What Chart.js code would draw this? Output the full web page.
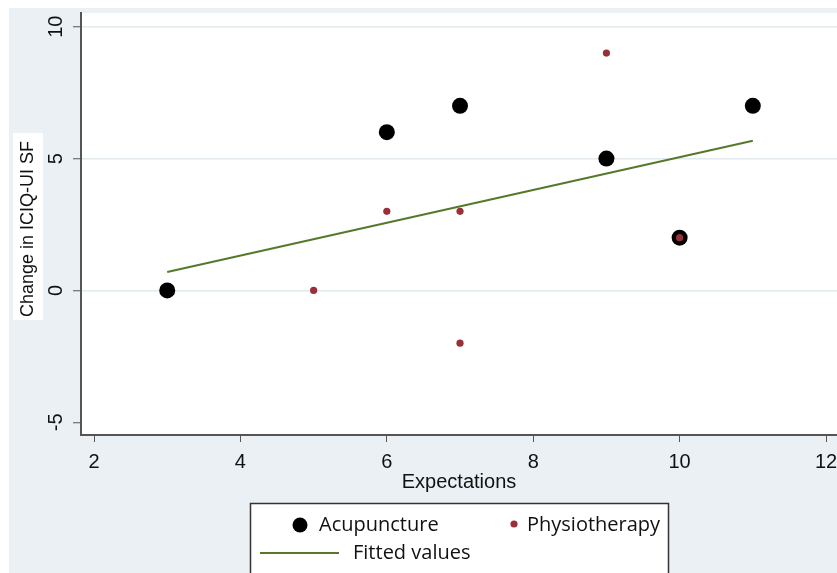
<!DOCTYPE html>
<html><head><meta charset="utf-8">
<script src="https://cdn.jsdelivr.net/npm/chart.js@4/dist/chart.umd.min.js"></script>
<style>html,body{margin:0;padding:0;background:#fff;overflow:hidden}canvas{position:absolute;left:0;top:0}</style>
</head><body><canvas id="c" width="837" height="573"></canvas>
<script>
// ---- data ----
const acuX = [3, 6, 7, 9, 10, 11];
const acuY = [0, 6, 7, 5, 2, 7];
const physX = [5, 6, 7, 7, 9, 10];
const physY = [0, 3, 3, -2, 9, 2];
const fitX = [3, 11];
const fitY = [0.70, 5.68];
const xTicks = [2, 4, 6, 8, 10, 12];
const yTicks = [-5, 0, 5, 10];
const seriesLabels = ['Acupuncture', 'Physiotherapy', 'Fitted values'];
const xTitle = 'Expectations';
const yTitle = 'Change in ICIQ-UI SF';

const BG = '#eaf0f3';
const TICKFONT = '20px "Liberation Sans", Arial, sans-serif';
const LEGFONT = '20px "Open Sans", "Liberation Sans", sans-serif';
const pts = (xs, ys) => xs.map((x, i) => ({x: x, y: ys[i]}));

const framePlugin = {
  id: 'frame',
  beforeDraw(chart) {
    const ctx = chart.ctx, a = chart.chartArea;
    ctx.save();
    ctx.fillStyle = '#fff'; ctx.fillRect(0, 0, chart.width, chart.height);
    ctx.fillStyle = BG; ctx.fillRect(9, 8, chart.width - 9, chart.height - 8);
    ctx.fillStyle = '#fff'; ctx.fillRect(a.left, a.top, a.right - a.left, a.bottom - a.top);
    // y title box + text
    ctx.fillStyle = '#fff'; ctx.fillRect(13, 133, 30, 187);
    ctx.fillStyle = '#111';
    ctx.font = '18px "Liberation Sans", Arial, sans-serif';
    ctx.textAlign = 'center'; ctx.textBaseline = 'middle';
    ctx.translate(28, (a.top + a.bottom) / 2 + 5);
    ctx.rotate(-Math.PI / 2);
    ctx.fillText(yTitle, 0, 0);
    ctx.restore();
  },
  afterDraw(chart) {
    const ctx = chart.ctx, ys = chart.scales.y;
    ctx.save();
    // rotated y tick labels
    ctx.fillStyle = '#111'; ctx.font = TICKFONT;
    ctx.textAlign = 'center'; ctx.textBaseline = 'middle';
    ys.ticks.forEach(t => {
      const py = ys.getPixelForValue(t.value);
      ctx.save(); ctx.translate(56, py); ctx.rotate(-Math.PI / 2);
      ctx.fillText(String(t.value), 0, 0); ctx.restore();
    });
    // legend
    const ds = chart.data.datasets;
    ctx.fillStyle = '#fff'; ctx.strokeStyle = '#333'; ctx.lineWidth = 1.5;
    ctx.fillRect(250, 503.5, 418, 80);
    ctx.strokeRect(250.5, 503.5, 418, 80);
    ctx.font = LEGFONT; ctx.textAlign = 'left'; ctx.textBaseline = 'middle'; ctx.fillStyle = '#111';
    ctx.beginPath(); ctx.arc(300, 525, 7.5, 0, Math.PI * 2); ctx.fillStyle = ds[1].backgroundColor; ctx.fill();
    ctx.fillStyle = '#111'; ctx.fillText(ds[1].label, 319, 525);
    ctx.beginPath(); ctx.arc(514, 524, 3.6, 0, Math.PI * 2); ctx.fillStyle = ds[2].backgroundColor; ctx.fill();
    ctx.fillStyle = '#111'; ctx.fillText(ds[2].label, 527, 525);
    ctx.beginPath(); ctx.moveTo(260, 553); ctx.lineTo(339, 553);
    ctx.strokeStyle = ds[0].borderColor; ctx.lineWidth = 2; ctx.stroke();
    ctx.fillStyle = '#111'; ctx.fillText(ds[0].label, 353, 553);
    ctx.restore();
  }
};

new Chart(document.getElementById('c'), {
  type: 'scatter',
  data: {
    datasets: [
      {label: seriesLabels[2], data: pts(fitX, fitY), showLine: true, borderColor: '#55782a', borderWidth: 2,
       pointRadius: 0, backgroundColor: '#55782a', order: 2},
      {label: seriesLabels[0], data: pts(acuX, acuY), backgroundColor: '#000', borderColor: '#000',
       pointRadius: 8, pointBorderWidth: 0, order: 1},
      {label: seriesLabels[1], data: pts(physX, physY), backgroundColor: '#983038', borderColor: '#983038',
       pointRadius: 3.6, pointBorderWidth: 0, order: 0}
    ]
  },
  options: {
    responsive: false, animation: false, devicePixelRatio: 1,
    layout: {autoPadding: false, padding: {left: 0, right: 0, top: 13, bottom: 78.6}},
    plugins: {legend: {display: false}, tooltip: {enabled: false}},
    scales: {
      x: {
        type: 'linear', min: 1.822, max: 12.15,
        afterBuildTicks: s => { s.ticks = xTicks.map(v => ({value: v})); },
        afterFit: s => { s.height = 59.4; s.paddingLeft = 0; s.paddingRight = 0; },
        ticks: {color: '#111', font: {family: '"Liberation Sans", Arial, sans-serif', size: 20}, padding: 8, maxRotation: 0},
        grid: {drawOnChartArea: false, drawTicks: true, tickLength: 7, tickColor: '#555', tickWidth: 1},
        border: {color: '#555', width: 2},
        title: {display: true, text: xTitle, color: '#111', font: {family: '"Liberation Sans", Arial, sans-serif', size: 20}, padding: 0}
      },
      y: {
        type: 'linear', min: -5.48, max: 10.52,
        afterBuildTicks: s => { s.ticks = yTicks.map(v => ({value: v})); },
        afterFit: s => { s.width = 81; s.paddingTop = 0; s.paddingBottom = 0; },
        ticks: {display: false},
        grid: {color: c => (c.tick && c.tick.value === -5) ? 'rgba(0,0,0,0)' : '#e3eaee', lineWidth: 1.5,
               drawTicks: true, tickLength: 8, tickColor: '#555', tickWidth: 1},
        border: {color: '#555', width: 2}
      }
    }
  },
  plugins: [framePlugin]
});
</script>
</body></html>
